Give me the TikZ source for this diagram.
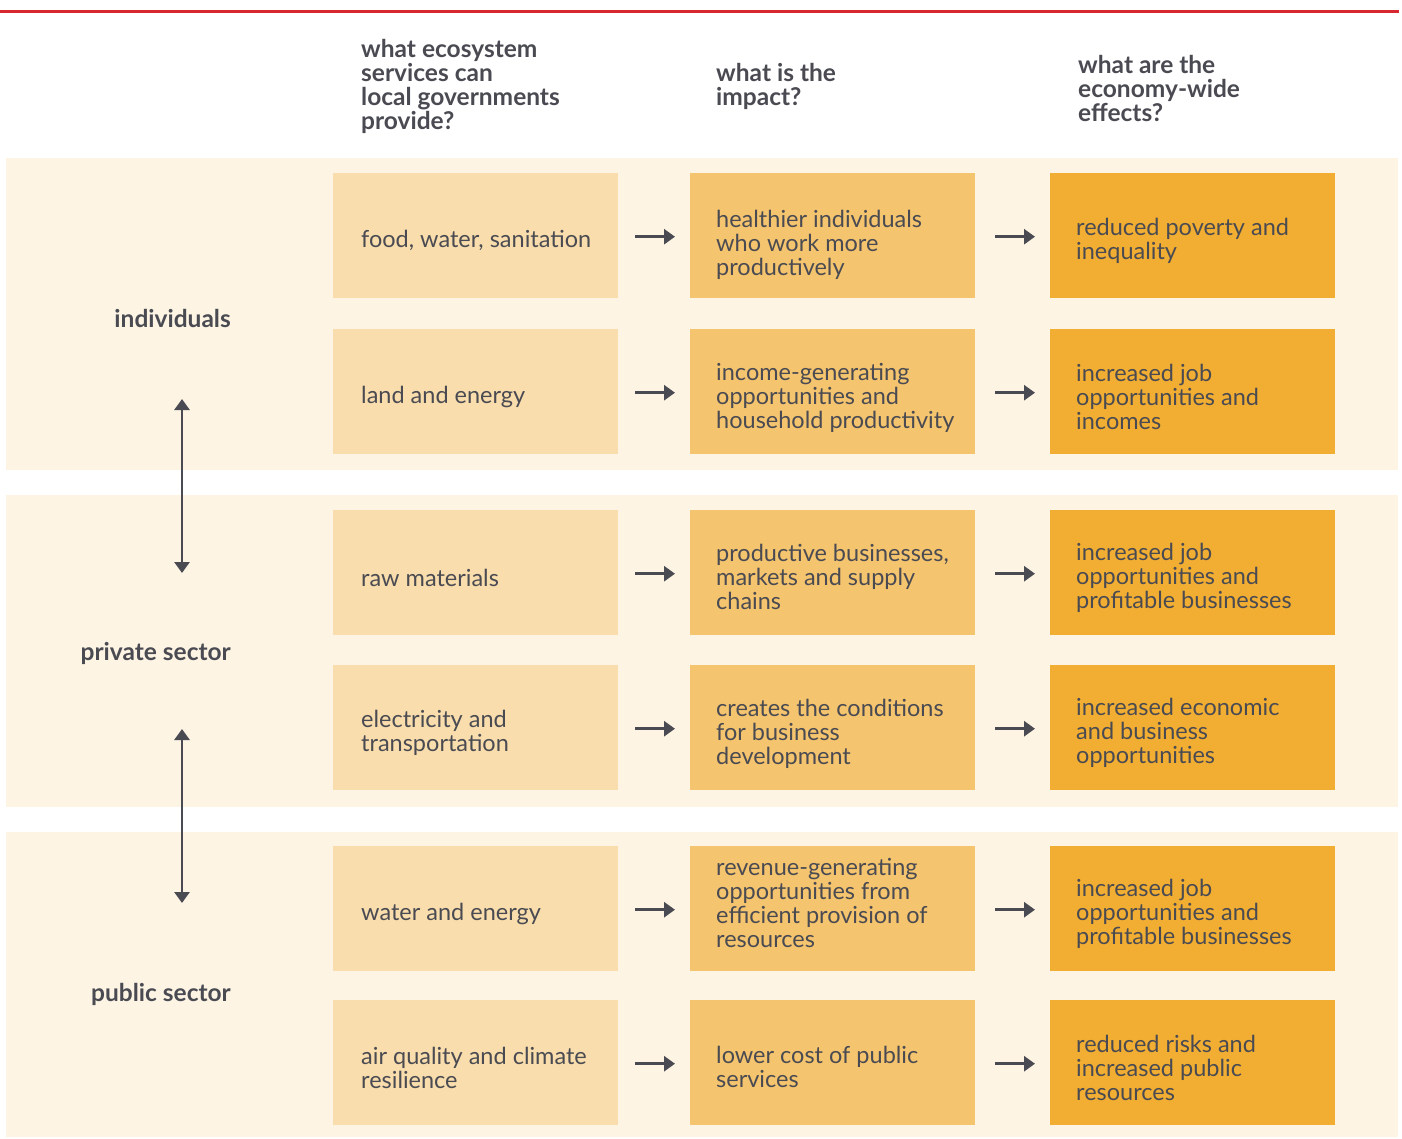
\documentclass[tikz,border=0pt]{standalone}
\usepackage{fontspec}
\setmainfont{Lato}
\usetikzlibrary{arrows.meta}
\definecolor{bandc}{HTML}{FDF4E4}
\definecolor{colA}{HTML}{F9DDAC}
\definecolor{colB}{HTML}{F5C46E}
\definecolor{colC}{HTML}{F2AE32}
\definecolor{ink}{HTML}{4A4B52}
\definecolor{redline}{HTML}{D7282F}
\newcommand\mkrow[6]{%
  \node[boxA] (a#1) at (333,#2) {};
  \node[boxB] (b#1) at (690,#2) {};
  \node[boxC] (c#1) at (1050,#2) {};
  \node[cell] (ta#1) at ([xshift=28pt,yshift=-5pt]a#1.west) {#3};
  \node[cell] (tb#1) at ([xshift=26pt,yshift=#6]b#1.west) {#4};
  \node[cell] (tc#1) at ([xshift=26pt,yshift=-5pt]c#1.west) {#5};
  \draw[arr] ([xshift=17pt,yshift=-1pt]a#1.east) -- ([xshift=-15pt,yshift=-1pt]b#1.west);
  \draw[arr] ([xshift=20pt,yshift=-1pt]b#1.east) -- ([xshift=-15pt,yshift=-1pt]c#1.west);
}
\begin{document}
\begin{tikzpicture}[x=1pt,y=-1pt,
  box/.style={anchor=north west,minimum width=285pt,minimum height=125pt,inner sep=0pt,draw=none},
  boxA/.style={box,fill=colA},
  boxB/.style={box,fill=colB},
  boxC/.style={box,fill=colC},
  cell/.style={anchor=west,align=left,inner sep=0pt,text=ink,font=\fontsize{23.5}{24}\selectfont},
  head/.style={anchor=west,align=left,inner sep=0pt,text=ink,font=\fontsize{24.5}{24}\selectfont\bfseries},
  rowlab/.style={anchor=east,inner sep=0pt,text=ink,font=\fontsize{24.5}{24}\selectfont\bfseries},
  arr/.style={draw=ink,line width=2.8pt,-{Triangle[length=11pt,width=15pt]}},
  darr/.style={draw=ink,line width=2.8pt,{Triangle[length=11pt,width=15pt]}-{Triangle[length=11pt,width=15pt]}}]
\useasboundingbox (0,0) rectangle (1402,1138);
\fill[white] (0,0) rectangle (1402,1138);
\draw[redline,line width=3pt] (0,11) -- (1399,11);
\fill[bandc] (6,158) rectangle (1398,470);
\fill[bandc] (6,495) rectangle (1398,807);
\fill[bandc] (6,832) rectangle (1398,1137);
\node[head] (h1) at (361,86) {what ecosystem\\services can\\local governments\\provide?};
\node[head] (h2) at (716,86) {what is the\\impact?};
\node[head] (h3) at (1078,88) {what are the\\economy-wide\\effects?};
\node[rowlab] (r1) at (231,318) {individuals};
\node[rowlab] (r2) at (231,653) {private sector};
\node[rowlab] (r3) at (231,994) {public sector};
\mkrow{1}{173}{food, water, sanitation}{healthier individuals\\who work more\\productively}{reduced poverty and\\inequality}{-9pt}
\mkrow{2}{329}{land and energy}{income-generating\\opportunities and\\household productivity}{increased job\\opportunities and\\incomes}{-6pt}
\mkrow{3}{510}{raw materials}{productive businesses,\\markets and supply\\chains}{increased job\\opportunities and\\profitable businesses}{-4pt}
\mkrow{4}{665}{electricity and\\transportation}{creates the conditions\\for business\\development}{increased economic\\and business\\opportunities}{-6pt}
\mkrow{5}{846}{water and energy}{revenue-generating\\opportunities from\\efficient provision of\\resources}{increased job\\opportunities and\\profitable businesses}{6pt}
\mkrow{6}{1000}{air quality and climate\\resilience}{lower cost of public\\services}{reduced risks and\\increased public\\resources}{-4pt}
\coordinate (v1t) at (182,399);
\coordinate (v1b) at (182,573);
\coordinate (v2t) at (182,729);
\coordinate (v2b) at (182,903);
\draw[darr] (v1t) -- (v1b);
\draw[darr] (v2t) -- (v2b);
\end{tikzpicture}
\end{document}
